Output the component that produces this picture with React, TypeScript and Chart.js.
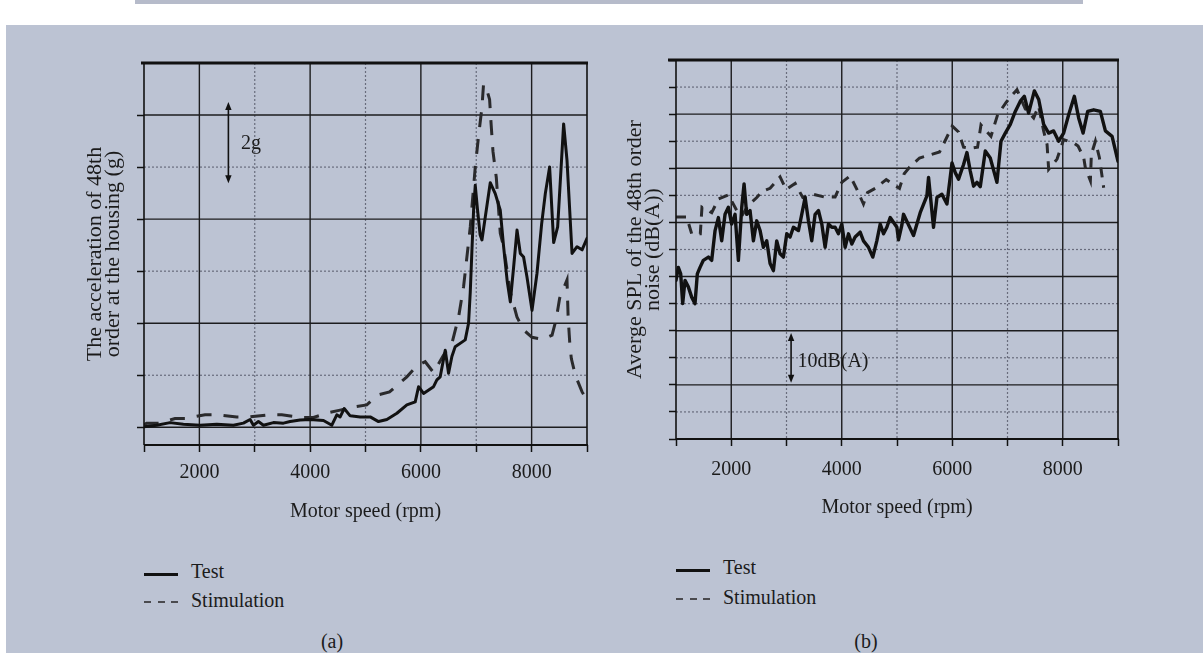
import React, { useEffect, useRef } from 'react';
import { Chart, registerables } from 'chart.js';

Chart.register(...registerables);

const FONT = "'Liberation Serif', 'Times New Roman', serif";
Chart.defaults.font.family = FONT;

// ---------- shared axis ticks ----------
const xTicks = [1000, 2000, 3000, 4000, 5000, 6000, 7000, 8000, 9000];
const xTickLabels = ['', '2000', '', '4000', '', '6000', '', '8000', ''];
const xSolidGrid = [2000, 4000, 6000, 8000];
const xDottedGrid = [3000, 5000, 7000];

// ---------- panel (a): acceleration (grid units) ----------
const rpmTestA = [1000, 1229, 1470, 1711, 2012, 2314, 2614, 2795, 2916, 2976, 3066, 3157, 3337, 3518, 3639, 3819, 4000, 4241, 4392, 4482, 4542, 4615, 4723, 4904, 5085, 5235, 5386, 5567, 5747, 5898, 5958, 6048, 6229, 6289, 6349, 6440, 6500, 6560, 6620, 6801, 6861, 6892, 6922, 6952, 6982, 7024, 7070, 7103, 7163, 7253, 7343, 7434, 7494, 7560, 7615, 7675, 7736, 7796, 7855, 7916, 8007, 8097, 8180, 8247, 8325, 8398, 8470, 8578, 8639, 8730, 8820, 8911, 9000];
const accTestA = [0.01, 0.04, 0.09, 0.06, 0.04, 0.06, 0.04, 0.08, 0.15, 0.04, 0.11, 0.04, 0.09, 0.08, 0.11, 0.14, 0.15, 0.13, 0.04, 0.24, 0.2, 0.36, 0.22, 0.2, 0.2, 0.11, 0.15, 0.27, 0.43, 0.49, 0.78, 0.65, 0.78, 0.91, 0.97, 1.48, 1.04, 1.36, 1.55, 1.68, 2.0, 2.6, 3.4, 4.17, 4.65, 4.17, 3.7, 3.6, 4.04, 4.7, 4.49, 4.17, 3.47, 2.8, 2.41, 3.08, 3.79, 3.34, 3.27, 2.89, 2.25, 2.96, 3.9, 4.49, 5.0, 3.55, 3.85, 5.83, 5.13, 3.34, 3.47, 3.41, 3.63];
const rpmStimA = [1000, 1048, 1289, 1560, 1741, 2103, 2343, 2675, 2916, 3265, 3488, 3850, 4060, 4331, 4542, 4831, 5024, 5217, 5434, 5747, 5928, 6078, 6229, 6410, 6560, 6681, 6771, 6892, 6982, 7042, 7103, 7132, 7200, 7241, 7270, 7302, 7362, 7434, 7494, 7614, 7735, 7855, 8007, 8205, 8369, 8446, 8506, 8639, 8660, 8690, 8717, 8789, 8911, 9000];
const accStimA = [0.05, 0.08, 0.08, 0.17, 0.17, 0.24, 0.24, 0.2, 0.2, 0.24, 0.24, 0.19, 0.19, 0.28, 0.33, 0.4, 0.43, 0.62, 0.68, 0.97, 1.18, 1.26, 1.05, 1.39, 1.61, 2.12, 2.7, 3.85, 5.0, 5.6, 6.15, 6.6, 6.45, 6.3, 5.8, 5.3, 4.8, 3.73, 3.47, 2.6, 2.12, 1.87, 1.73, 1.69, 1.77, 2.09, 2.48, 2.83, 2.1, 1.6, 1.32, 1.0, 0.68, 0.52];
const yTicksA = [0, 1, 2, 3, 4, 5, 6];
const ySolidA = [0, 2, 4, 6];
const yDottedA = [1, 3, 5];

// ---------- panel (b): SPL dB(A) ----------
const rpmTestB = [1000, 1042, 1085, 1121, 1163, 1223, 1284, 1344, 1386, 1435, 1495, 1586, 1646, 1707, 1767, 1827, 1888, 1948, 2008, 2069, 2129, 2190, 2232, 2280, 2340, 2401, 2461, 2522, 2582, 2642, 2703, 2763, 2823, 2884, 2944, 3005, 3065, 3125, 3216, 3276, 3337, 3397, 3457, 3518, 3578, 3639, 3699, 3759, 3820, 3880, 3940, 4001, 4061, 4122, 4182, 4242, 4333, 4393, 4484, 4562, 4635, 4696, 4756, 4816, 4877, 4998, 5027, 5088, 5118, 5299, 5420, 5541, 5571, 5661, 5723, 5813, 5904, 5995, 6054, 6114, 6205, 6266, 6326, 6386, 6447, 6507, 6598, 6688, 6809, 6882, 6960, 7051, 7141, 7232, 7304, 7382, 7486, 7565, 7654, 7745, 7835, 7926, 8016, 8107, 8210, 8288, 8368, 8451, 8560, 8681, 8772, 8893, 9000];
const splTestB = [29.3, 31.7, 30.5, 25.0, 29.3, 28.1, 26.2, 25.0, 30.5, 31.7, 33.0, 33.6, 33.0, 38.5, 40.9, 36.6, 41.5, 42.8, 39.7, 41.5, 33.0, 42.8, 47.1, 41.5, 42.2, 36.6, 40.3, 38.5, 35.4, 36.6, 32.4, 31.1, 36.6, 34.2, 33.6, 37.9, 37.3, 39.1, 38.5, 41.5, 44.6, 40.3, 36.6, 41.5, 42.2, 39.7, 35.4, 39.7, 39.1, 39.1, 37.9, 39.7, 35.4, 37.9, 36.0, 37.3, 38.2, 36.6, 35.4, 33.6, 36.6, 39.7, 37.9, 39.1, 40.9, 39.1, 36.8, 39.5, 41.5, 37.6, 41.8, 44.9, 48.3, 39.1, 44.6, 45.2, 43.4, 51.0, 49.2, 48.0, 50.7, 52.9, 49.5, 46.7, 47.4, 46.6, 53.2, 51.9, 47.4, 55.0, 56.5, 58.1, 60.5, 62.4, 63.3, 60.2, 64.3, 62.7, 58.1, 56.5, 56.9, 55.0, 56.5, 59.9, 63.3, 59.3, 56.5, 60.5, 60.8, 60.5, 56.9, 55.9, 51.3];
const rpmStimB = [1000, 1193, 1284, 1440, 1470, 1647, 1766, 1947, 2100, 2190, 2304, 2462, 2553, 2703, 2884, 2993, 3156, 3295, 3476, 3681, 3880, 4000, 4152, 4274, 4393, 4466, 4605, 4805, 5045, 5130, 5226, 5407, 5770, 5891, 6000, 6114, 6205, 6326, 6458, 6520, 6701, 6821, 6978, 7063, 7172, 7320, 7473, 7563, 7654, 7716, 7745, 7897, 8016, 8197, 8277, 8379, 8409, 8500, 8518, 8591, 8663, 8741];
const splStimB = [41.0, 41.0, 37.9, 37.9, 42.8, 41.8, 44.3, 45.1, 42.2, 41.2, 43.1, 44.6, 45.7, 46.3, 48.4, 46.1, 47.2, 44.6, 45.2, 44.7, 44.7, 47.4, 48.6, 46.1, 43.4, 45.5, 46.3, 47.9, 46.3, 49.0, 50.2, 51.9, 53.0, 55.5, 57.8, 56.7, 53.9, 53.7, 53.9, 58.0, 55.9, 59.9, 62.2, 63.3, 64.5, 61.0, 59.3, 61.5, 56.9, 54.4, 49.8, 51.7, 55.3, 54.7, 54.1, 52.0, 50.1, 47.7, 52.6, 55.0, 52.0, 46.4];
const yTicksB = [0, 5, 10, 15, 20, 25, 30, 35, 40, 45, 50, 55, 60, 65, 70];
const ySolidB = [10, 20, 30, 40, 50, 60];
const yDottedB = [5, 15, 25, 35, 45, 55, 65];

type Note = { x: number; y1: number; y2: number; ty: number; label: string; dx: number };

type PanelSpec = {
  testX: number[]; testY: number[]; stimX: number[]; stimY: number[];
  yMin: number; yMax: number; yTicks: number[]; ySolid: number[]; yDotted: number[];
  yTitle: string[]; yTitlePad: number; yWidth: number; xHeight: number;
  padTop: number; padRight: number; xTitlePad: number; tickPad: number;
  testWidth: number; stimDash: number[]; topStub: number; note: Note;
};

const panelA: PanelSpec = {
  testX: rpmTestA, testY: accTestA, stimX: rpmStimA, stimY: accStimA,
  yMin: -0.34, yMax: 7, yTicks: yTicksA, ySolid: ySolidA, yDotted: yDottedA,
  yTitle: ['The acceleration of 48th', 'order at the housing (g)'],
  yTitlePad: 86, yWidth: 144, xHeight: 85, padTop: 63, padRight: 13, xTitlePad: 6, tickPad: 9,
  testWidth: 3, stimDash: [15, 12], topStub: 3,
  note: { x: 2524, y1: 4.69, y2: 6.25, ty: 5.45, label: '2g', dx: 12.7 },
};

const panelB: PanelSpec = {
  testX: rpmTestB, testY: splTestB, stimX: rpmStimB, stimY: splStimB,
  yMin: 0, yMax: 70, yTicks: yTicksB, ySolid: ySolidB, yDotted: yDottedB,
  yTitle: ['Averge SPL of the 48th order', 'noise (dB(A))'],
  yTitlePad: 26.5, yWidth: 76, xHeight: 91, padTop: 60, padRight: 85, xTitlePad: 10, tickPad: 12,
  testWidth: 3.4, stimDash: [10, 8], topStub: 8,
  note: { x: 3083, y1: 10.4, y2: 19.6, ty: 14.3, label: '10dB(A)', dx: 6.3 },
};

function gridFramePlugin(p: PanelSpec) {
  return {
    id: 'gridFrame',
    beforeDatasetsDraw(chart: any) {
      const { ctx, chartArea: a, scales } = chart;
      const x = scales.x, y = scales.y;
      const seg = (x1: number, y1: number, x2: number, y2: number) => {
        ctx.beginPath(); ctx.moveTo(x1, y1); ctx.lineTo(x2, y2); ctx.stroke();
      };
      ctx.save();
      ctx.setLineDash([2, 2]);
      ctx.lineWidth = 1.2;
      ctx.strokeStyle = 'rgba(60,62,78,0.65)';
      xDottedGrid.forEach((v) => { const px = x.getPixelForValue(v); seg(px, a.top, px, a.bottom); });
      p.yDotted.forEach((v) => { const py = y.getPixelForValue(v); seg(a.left, py, a.right, py); });
      ctx.setLineDash([]);
      ctx.lineWidth = 1.4;
      ctx.strokeStyle = '#1c1c1e';
      xSolidGrid.forEach((v) => { const px = x.getPixelForValue(v); seg(px, a.top, px, a.bottom); });
      p.ySolid.forEach((v) => { const py = y.getPixelForValue(v); seg(a.left, py, a.right, py); });
      ctx.restore();
    },
    afterDatasetsDraw(chart: any) {
      const { ctx, chartArea: a } = chart;
      ctx.save();
      ctx.strokeStyle = '#111';
      ctx.lineWidth = 1.6;
      ctx.beginPath(); ctx.moveTo(a.left, a.top); ctx.lineTo(a.left, a.bottom); ctx.stroke();
      ctx.beginPath(); ctx.moveTo(a.right, a.top); ctx.lineTo(a.right, a.bottom); ctx.stroke();
      ctx.lineWidth = 2;
      ctx.beginPath(); ctx.moveTo(a.left, a.bottom); ctx.lineTo(a.right + 1, a.bottom); ctx.stroke();
      ctx.lineWidth = 3;
      ctx.beginPath(); ctx.moveTo(a.left - p.topStub, a.top); ctx.lineTo(a.right + 1, a.top); ctx.stroke();
      ctx.restore();
    },
  };
}

function notePlugin(n: Note) {
  return {
    id: 'scaleNote',
    afterDatasetsDraw(chart: any) {
      const { ctx, scales } = chart;
      const px = scales.x.getPixelForValue(n.x);
      const pBottom = scales.y.getPixelForValue(n.y1);
      const pTop = scales.y.getPixelForValue(n.y2);
      ctx.save();
      ctx.strokeStyle = '#111';
      ctx.fillStyle = '#111';
      ctx.lineWidth = 1.6;
      ctx.beginPath(); ctx.moveTo(px, pTop + 4); ctx.lineTo(px, pBottom - 4); ctx.stroke();
      ctx.beginPath(); ctx.moveTo(px, pTop); ctx.lineTo(px - 3.2, pTop + 8); ctx.lineTo(px + 3.2, pTop + 8); ctx.closePath(); ctx.fill();
      ctx.beginPath(); ctx.moveTo(px, pBottom); ctx.lineTo(px - 3.2, pBottom - 8); ctx.lineTo(px + 3.2, pBottom - 8); ctx.closePath(); ctx.fill();
      ctx.font = `20px ${FONT}`;
      ctx.textAlign = 'left';
      ctx.textBaseline = 'middle';
      ctx.fillStyle = '#1b1b1b';
      ctx.fillText(n.label, px + n.dx, scales.y.getPixelForValue(n.ty));
      ctx.restore();
    },
  };
}

function makeConfig(p: PanelSpec): any {
  return {
    type: 'line',
    data: {
      datasets: [
        {
          label: 'Test',
          data: p.testX.map((x, i) => ({ x, y: p.testY[i] })),
          borderColor: '#111111', borderWidth: p.testWidth, pointRadius: 0, tension: 0, fill: false,
          borderJoinStyle: 'round', borderCapStyle: 'round',
        },
        {
          label: 'Stimulation',
          data: p.stimX.map((x, i) => ({ x, y: p.stimY[i] })),
          borderColor: '#2a2a2c', borderWidth: 3, borderDash: p.stimDash, pointRadius: 0, tension: 0, fill: false,
        },
      ],
    },
    options: {
      responsive: false,
      animation: false,
      devicePixelRatio: 1,
      layout: { padding: { top: p.padTop, right: p.padRight, left: 0, bottom: 0 } },
      plugins: { legend: { display: false }, tooltip: { enabled: false } },
      scales: {
        x: {
          type: 'linear', min: 1000, max: 9000,
          afterBuildTicks: (s: any) => { s.ticks = xTicks.map((v) => ({ value: v })); },
          afterFit: (s: any) => { s.height = p.xHeight; },
          ticks: {
            autoSkip: false, maxRotation: 0, padding: p.tickPad, color: '#1b1b1b',
            font: { size: 20, family: FONT },
            callback: (_v: any, i: number) => xTickLabels[i],
          },
          grid: { display: true, drawOnChartArea: false, drawTicks: true, tickLength: 7, tickColor: '#111', tickWidth: 1.5 },
          border: { display: false },
          title: {
            display: true, text: 'Motor speed (rpm)', color: '#1b1b1b',
            font: { size: 20, family: FONT }, padding: { top: 0, bottom: p.xTitlePad },
          },
        },
        y: {
          type: 'linear', min: p.yMin, max: p.yMax,
          afterBuildTicks: (s: any) => { s.ticks = p.yTicks.map((v) => ({ value: v })); },
          afterFit: (s: any) => { s.width = p.yWidth; },
          ticks: { display: false },
          grid: { display: true, drawOnChartArea: false, drawTicks: true, tickLength: 7, tickColor: '#111', tickWidth: 1.5 },
          border: { display: false },
          title: {
            display: true, text: p.yTitle, color: '#1b1b1b',
            font: { size: 22, family: FONT, lineHeight: '18px' }, padding: { top: p.yTitlePad, bottom: 0 },
          },
        },
      },
    },
    plugins: [gridFramePlugin(p), notePlugin(p.note)],
  };
}

function ChartPanel({ spec, left }: { spec: PanelSpec; left: number }) {
  const ref = useRef<HTMLCanvasElement | null>(null);
  const width = left === 0 ? 600 : 603;
  useEffect(() => {
    if (!ref.current) return;
    const chart = new Chart(ref.current, makeConfig(spec));
    return () => chart.destroy();
  }, [spec]);
  return (
    <canvas
      ref={ref}
      width={width}
      height={530}
      style={{ position: 'absolute', left, top: 0, width, height: 530 }}
    />
  );
}

const textStyle: React.CSSProperties = {
  position: 'absolute', fontFamily: FONT, fontSize: 20, lineHeight: '24px', color: '#1b1b1b', whiteSpace: 'nowrap',
};

function Legend({ sx, testY, stimY, tx }: { sx: number; testY: number; stimY: number; tx: number }) {
  return (
    <>
      <div style={{ position: 'absolute', left: sx, top: testY + 2, width: 34, height: 3, background: '#111' }} />
      <div style={{ ...textStyle, left: tx, top: testY - 12 }}>Test</div>
      {[0, 1, 2].map((k) => (
        <div key={k} style={{ position: 'absolute', left: sx + k * 13.5, top: stimY + 1, width: 7, height: 1.6, background: '#4a4a4e' }} />
      ))}
      <div style={{ ...textStyle, left: tx, top: stimY - 12 }}>Stimulation</div>
    </>
  );
}

export default function App() {
  return (
    <div style={{ position: 'absolute', left: 0, top: 0, width: 1203, height: 653, background: '#ffffff', overflow: 'hidden' }}>
      <div style={{ position: 'absolute', left: 135, top: 0, width: 948, height: 4, background: '#b6bbca' }} />
      <div style={{ position: 'absolute', left: 6, top: 25, right: 0, bottom: 0, background: '#bcc3d3' }} />
      <ChartPanel spec={panelA} left={0} />
      <ChartPanel spec={panelB} left={600} />
      <Legend sx={144} testY={571} stimY={600} tx={191} />
      <Legend sx={676} testY={567} stimY={597} tx={723} />
      <div style={{ ...textStyle, left: 332, top: 629, transform: 'translateX(-50%)' }}>(a)</div>
      <div style={{ ...textStyle, left: 866, top: 629, transform: 'translateX(-50%)' }}>(b)</div>
    </div>
  );
}
